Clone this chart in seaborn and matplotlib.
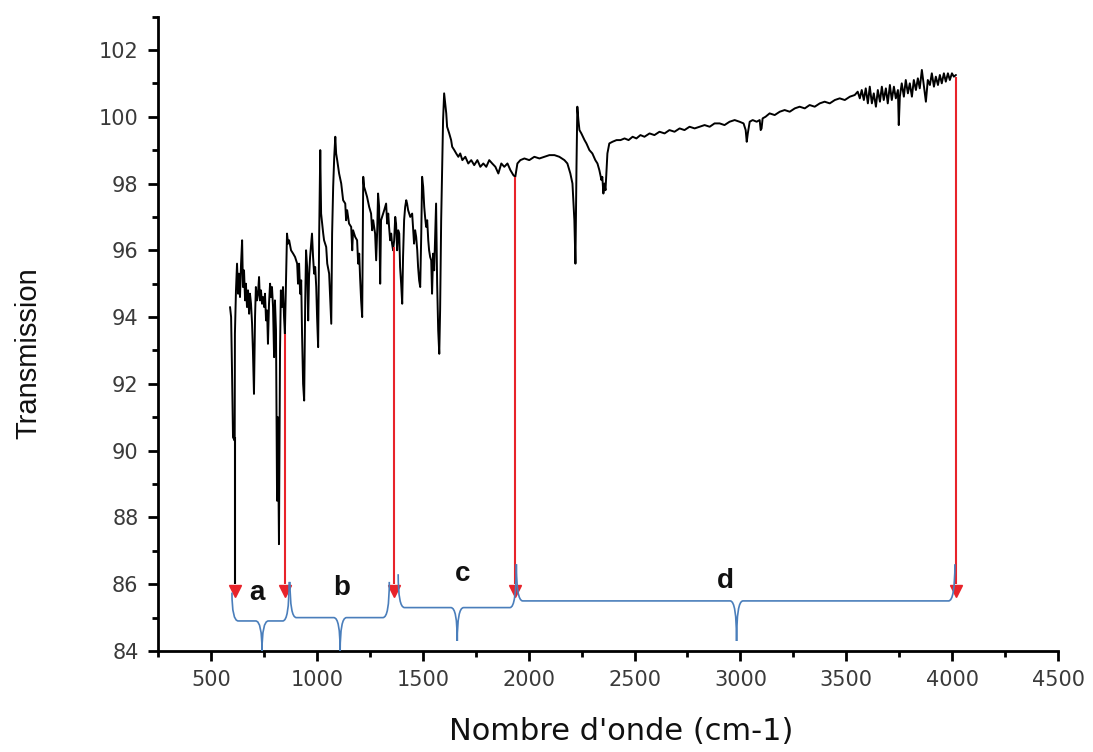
import numpy as np
import pandas as pd
import matplotlib
matplotlib.use("Agg")
import matplotlib.pyplot as plt
from matplotlib.path import Path
from matplotlib.patches import PathPatch
from matplotlib.ticker import MultipleLocator
import seaborn as sns

# ---------------- data ----------------
wavenumber = [
    590, 595, 599, 604, 612, 613, 618, 623, 628, 632, 637, 642, 647, 651, 656, 661, 665, 670, 675, 680,
    684, 689, 694, 698, 703, 708, 712, 717, 722, 727, 731, 736, 741, 746, 751, 755, 760, 765, 769, 774,
    779, 783, 788, 793, 798, 802, 807, 812, 816, 821, 826, 830, 835, 840, 845, 849, 854, 859, 864, 869,
    878, 888, 897, 907, 911, 916, 921, 926, 930, 935, 940, 945, 949, 954, 959, 963, 968, 973, 977, 982,
    987, 992, 997, 1001, 1006, 1011, 1016, 1020, 1025, 1030, 1034, 1044, 1049, 1058, 1068, 1072, 1077, 1082, 1087, 1091,
    1096, 1105, 1115, 1124, 1134, 1138, 1143, 1152, 1162, 1167, 1171, 1181, 1190, 1195, 1200, 1204, 1209, 1214, 1219, 1223,
    1228, 1237, 1247, 1256, 1261, 1266, 1275, 1280, 1285, 1289, 1294, 1299, 1303, 1308, 1318, 1327, 1332, 1337, 1341, 1346,
    1351, 1355, 1360, 1365, 1370, 1374, 1379, 1384, 1389, 1393, 1398, 1403, 1407, 1412, 1417, 1422, 1426, 1431, 1441, 1450,
    1459, 1464, 1469, 1474, 1478, 1483, 1488, 1493, 1497, 1502, 1507, 1511, 1516, 1521, 1526, 1530, 1535, 1540, 1544, 1549,
    1554, 1559, 1563, 1568, 1573, 1578, 1582, 1587, 1592, 1596, 1601, 1606, 1611, 1615, 1625, 1634, 1639, 1649, 1658, 1668,
    1677, 1687, 1701, 1715, 1729, 1743, 1758, 1772, 1786, 1800, 1814, 1828, 1843, 1857, 1871, 1885, 1900, 1914, 1928, 1937,
    1947, 1961, 1980, 2003, 2027, 2051, 2074, 2098, 2122, 2145, 2169, 2183, 2197, 2207, 2216, 2221, 2226, 2230, 2235, 2240,
    2249, 2264, 2273, 2287, 2301, 2315, 2325, 2334, 2344, 2348, 2353, 2358, 2363, 2367, 2372, 2381, 2396, 2415, 2434, 2453,
    2472, 2491, 2509, 2528, 2547, 2571, 2594, 2618, 2642, 2665, 2689, 2713, 2736, 2760, 2784, 2807, 2831, 2855, 2878, 2902,
    2925, 2949, 2973, 2996, 3015, 3025, 3030, 3035, 3044, 3058, 3077, 3091, 3096, 3100, 3105, 3119, 3138, 3162, 3186, 3209,
    3233, 3257, 3280, 3304, 3327, 3351, 3375, 3398, 3422, 3446, 3469, 3493, 3517, 3540, 3554, 3564, 3573, 3583, 3592, 3602,
    3611, 3621, 3630, 3640, 3649, 3659, 3668, 3677, 3687, 3696, 3706, 3715, 3725, 3734, 3744, 3748, 3753, 3762, 3772, 3781,
    3791, 3800, 3810, 3819, 3829, 3838, 3847, 3857, 3866, 3876, 3885, 3895, 3904, 3914, 3923, 3933, 3942, 3951, 3961, 3970,
    3980, 3989, 3999, 4008, 4018,
]
transmission = [
    94.3, 94.0, 92.5, 90.4, 90.3, 93.5, 94.8, 95.6, 94.7, 95.3, 94.6, 95.6, 96.3, 94.9, 95.4, 94.5, 95.0, 94.3, 94.8, 94.1,
    94.7, 94.4, 93.8, 93.0, 91.7, 94.0, 94.9, 94.5, 94.7, 95.2, 94.5, 94.8, 94.4, 94.6, 94.3, 94.7, 93.9, 94.2, 93.2, 94.4,
    95.0, 94.6, 94.9, 94.3, 92.8, 94.5, 93.6, 88.5, 91.0, 87.2, 93.0, 94.8, 94.3, 94.9, 94.0, 93.5, 95.0, 96.5, 96.2, 96.3,
    96.0, 95.9, 95.8, 95.6, 95.0, 95.6, 94.7, 95.1, 93.5, 92.0, 91.5, 94.5, 96.0, 95.5, 93.9, 95.2, 95.8, 96.2, 96.5, 95.8,
    95.3, 95.5, 94.9, 94.0, 93.1, 96.5, 99.0, 97.1, 96.8, 96.5, 96.3, 96.1, 95.6, 95.3, 93.8, 96.5, 97.9, 98.8, 99.4, 98.9,
    98.7, 98.3, 98.0, 97.5, 97.4, 96.9, 97.2, 96.8, 96.7, 96.0, 96.6, 96.4, 96.3, 95.6, 95.9, 95.2, 94.5, 94.0, 98.2, 97.9,
    97.8, 97.6, 97.3, 97.1, 96.6, 96.9, 96.5, 95.7, 96.6, 97.7, 97.3, 95.0, 96.9, 97.0, 97.2, 97.4, 96.8, 97.1, 96.7, 96.3,
    96.5, 96.2, 96.0, 96.3, 97.0, 96.8, 96.0, 96.6, 96.5, 95.5, 95.0, 94.4, 95.8, 96.9, 97.3, 97.5, 97.4, 97.2, 97.0, 97.1,
    96.2, 96.6, 96.4, 96.0, 95.5, 95.1, 94.9, 96.5, 98.2, 97.9, 97.3, 97.0, 96.7, 96.9, 96.3, 96.0, 95.8, 95.7, 94.7, 95.9,
    95.4, 96.5, 97.4, 95.0, 93.6, 92.9, 94.2, 96.9, 98.5, 99.9, 100.7, 100.4, 100.1, 99.7, 99.5, 99.3, 99.1, 99.0, 98.9, 98.8,
    98.9, 98.7, 98.8, 98.6, 98.7, 98.55, 98.7, 98.5, 98.6, 98.5, 98.7, 98.6, 98.5, 98.3, 98.6, 98.5, 98.6, 98.4, 98.25, 98.2,
    98.6, 98.7, 98.75, 98.7, 98.8, 98.75, 98.8, 98.85, 98.85, 98.8, 98.7, 98.6, 98.3, 98.0, 96.9, 95.6, 98.5, 100.3, 99.9, 99.6,
    99.5, 99.3, 99.2, 99.0, 98.9, 98.7, 98.6, 98.4, 98.1, 98.2, 97.7, 98.0, 97.8, 98.3, 98.9, 99.2, 99.25, 99.3, 99.3, 99.35,
    99.3, 99.4, 99.35, 99.45, 99.4, 99.5, 99.45, 99.55, 99.5, 99.6, 99.55, 99.65, 99.6, 99.7, 99.65, 99.7, 99.75, 99.7, 99.8, 99.8,
    99.75, 99.85, 99.9, 99.85, 99.8, 99.6, 99.25, 99.5, 99.85, 99.9, 99.85, 99.9, 99.6, 99.65, 99.95, 100.0, 100.1, 100.05, 100.15, 100.2,
    100.15, 100.25, 100.3, 100.25, 100.35, 100.3, 100.4, 100.45, 100.4, 100.5, 100.55, 100.5, 100.6, 100.65, 100.75, 100.55, 100.8, 100.5, 100.85, 100.4,
    100.9, 100.4, 100.7, 100.3, 100.8, 100.45, 100.9, 100.5, 100.85, 100.4, 100.95, 100.5, 100.9, 100.55, 100.8, 99.75, 100.6, 101.0, 100.6, 101.1,
    100.7, 101.0, 100.6, 101.1, 100.8, 101.15, 100.85, 101.4, 100.95, 100.45, 101.1, 100.95, 101.3, 100.9, 101.2, 100.95, 101.25, 101.0, 101.3, 101.05,
    101.3, 101.1, 101.3, 101.2, 101.25,
]

# region boundary markers
marker_x = [613, 850, 1365, 1937, 4020]
marker_top = [90.4, 93.5, 96.1, 98.2, 101.2]
marker_colors = ["black", "#e8232a", "#e8232a", "#e8232a", "#e8232a"]
arrow_y = 85.8

# region braces
region_labels = ["a", "b", "c", "d"]
brace_left = [599, 873, 1384, 1942]
brace_right = [869, 1342, 1942, 4013]
brace_tip = [741, 1110, 1663, 2982]
brace_top_left = [85.75, 86.07, 86.3, 86.6]
brace_top_right = [86.07, 86.07, 86.6, 86.6]
brace_mid = [84.9, 85.0, 85.3, 85.5]
brace_tip_y = [84.0, 84.0, 84.3, 84.3]
label_x = [717, 1119, 1687, 2930]
label_y = [85.75, 85.9, 86.3, 86.1]

x_ticks = [500, 1000, 1500, 2000, 2500, 3000, 3500, 4000, 4500]
y_ticks = [84, 86, 88, 90, 92, 94, 96, 98, 100, 102]

# ---------------- plotting ----------------
sns.set_theme(style="ticks")
plt.rcParams["font.family"] = ["DejaVu Sans"]

fig = plt.figure(figsize=(10.93, 7.52), dpi=100)
ax = fig.add_axes([0.1446, 0.1343, 0.8234, 0.8437])

df = pd.DataFrame({"Nombre d'onde (cm-1)": wavenumber, "Transmission": transmission})
sns.lineplot(data=df, x="Nombre d'onde (cm-1)", y="Transmission", ax=ax,
             color="black", linewidth=1.4, estimator=None, sort=False)

for xm, ym, c in zip(marker_x, marker_top, marker_colors):
    ax.vlines(xm, 86.0, ym, color=c, linewidth=1.5, zorder=3)
    ax.plot([xm], [arrow_y], marker="v", color="#e8232a", markersize=9, zorder=4)

brace_color = "#4a7ebb"
for x0, x1, xt, yl, yr, ym, yt in zip(brace_left, brace_right, brace_tip,
                                      brace_top_left, brace_top_right, brace_mid, brace_tip_y):
    dx = 30
    dt = 30
    verts = [
        (x0, yl), (x0, ym), (x0 + dx, ym),
        (xt - dt, ym),
        (xt, ym), (xt, yt),
        (xt, ym), (xt + dt, ym),
        (x1 - dx, ym),
        (x1, ym), (x1, yr),
    ]
    codes = [Path.MOVETO, Path.CURVE3, Path.CURVE3,
             Path.LINETO,
             Path.CURVE3, Path.CURVE3,
             Path.CURVE3, Path.CURVE3,
             Path.LINETO,
             Path.CURVE3, Path.CURVE3]
    ax.add_patch(PathPatch(Path(verts, codes), facecolor="none", edgecolor=brace_color,
                           linewidth=1.2, zorder=5, clip_on=False))

for lx, ly, lab in zip(label_x, label_y, region_labels):
    ax.text(lx, ly, lab, ha="center", va="center", fontsize=20, fontweight="bold",
            color="#111111", family=["Liberation Sans", "DejaVu Sans"])

ax.set_xlim(250, 4500)
ax.set_ylim(84, 103)
ax.set_xticks(x_ticks)
ax.set_yticks(y_ticks)
ax.xaxis.set_minor_locator(MultipleLocator(250))
ax.yaxis.set_minor_locator(MultipleLocator(1))

for s in ["top", "right"]:
    ax.spines[s].set_visible(False)
for s in ["left", "bottom"]:
    ax.spines[s].set_linewidth(2.0)
    ax.spines[s].set_color("black")

ax.tick_params(axis="both", which="major", direction="out", length=7, width=2.0,
               color="black", labelsize=15, labelcolor="#3a3a3a", pad=7)
ax.tick_params(axis="both", which="minor", direction="out", length=4, width=2.0, color="black")

ax.set_xlabel("Nombre d'onde (cm-1)", fontsize=22, color="#111111")
ax.xaxis.set_label_coords(0.515, -0.104)
ax.set_ylabel("Transmission", fontsize=21, color="#111111",
              family=["Liberation Sans", "DejaVu Sans"])
ax.yaxis.set_label_coords(-0.129, 0.47)
ax.grid(False)

fig.savefig("out.png", dpi=100, facecolor="white")
